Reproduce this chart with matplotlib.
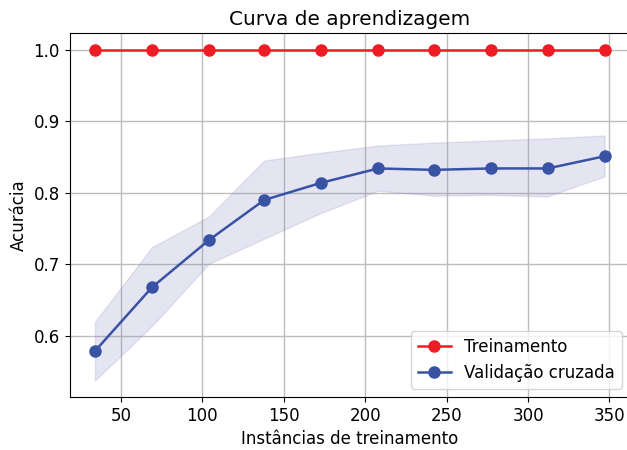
import numpy as np
import matplotlib
matplotlib.use('Agg')
import matplotlib.pyplot as plt

train_sizes = [34, 69, 104, 138, 173, 208, 242, 277, 312, 347]
train_mean = [1.0, 1.0, 1.0, 1.0, 1.0, 1.0, 1.0, 1.0, 1.0, 1.0]
train_std = [0.0, 0.0, 0.0, 0.0, 0.0, 0.0, 0.0, 0.0, 0.0, 0.0]
test_mean = [0.579, 0.668, 0.734, 0.790, 0.814, 0.834, 0.832, 0.834, 0.834, 0.851]
test_upper = [0.620, 0.724, 0.767, 0.845, 0.856, 0.866, 0.870, 0.873, 0.876, 0.880]
test_lower = [0.538, 0.614, 0.701, 0.736, 0.772, 0.803, 0.796, 0.797, 0.795, 0.823]

train_mean = np.array(train_mean)
train_std = np.array(train_std)

fig = plt.figure(figsize=(6.27, 4.5), dpi=100)
# the original picture is cropped slightly on the right, so the axes run past the edge
ax = fig.add_axes([69.5 / 627, 53 / 450, 560.5 / 627, 364 / 450])

ax.plot(train_sizes, train_mean, color='#ee1c25', marker='o', markersize=8,
        linewidth=1.8, label='Treinamento')
ax.fill_between(train_sizes, train_mean - train_std, train_mean + train_std,
                color='#ee1c25', alpha=0.15)
ax.plot(train_sizes, test_mean, color='#3953a4', marker='o', markersize=8,
        linewidth=1.8, label='Validação cruzada')
ax.fill_between(train_sizes, test_lower, test_upper, color='#8080c0', alpha=0.2)

ax.grid(True, color='#bdbdbd', linewidth=1.0)
ax.set_axisbelow(True)
ax.set_xticks([50, 100, 150, 200, 250, 300, 350])
ax.set_yticks([0.6, 0.7, 0.8, 0.9, 1.0])
ax.tick_params(labelsize=12)
ax.set_title('Curva de aprendizagem', fontsize=14.4)
ax.set_xlabel('Instâncias de treinamento', fontsize=12)
ax.set_ylabel('Acurácia', fontsize=12)
ax.legend(loc='lower right', fontsize=12)

fig.savefig('out.png', dpi=100)
